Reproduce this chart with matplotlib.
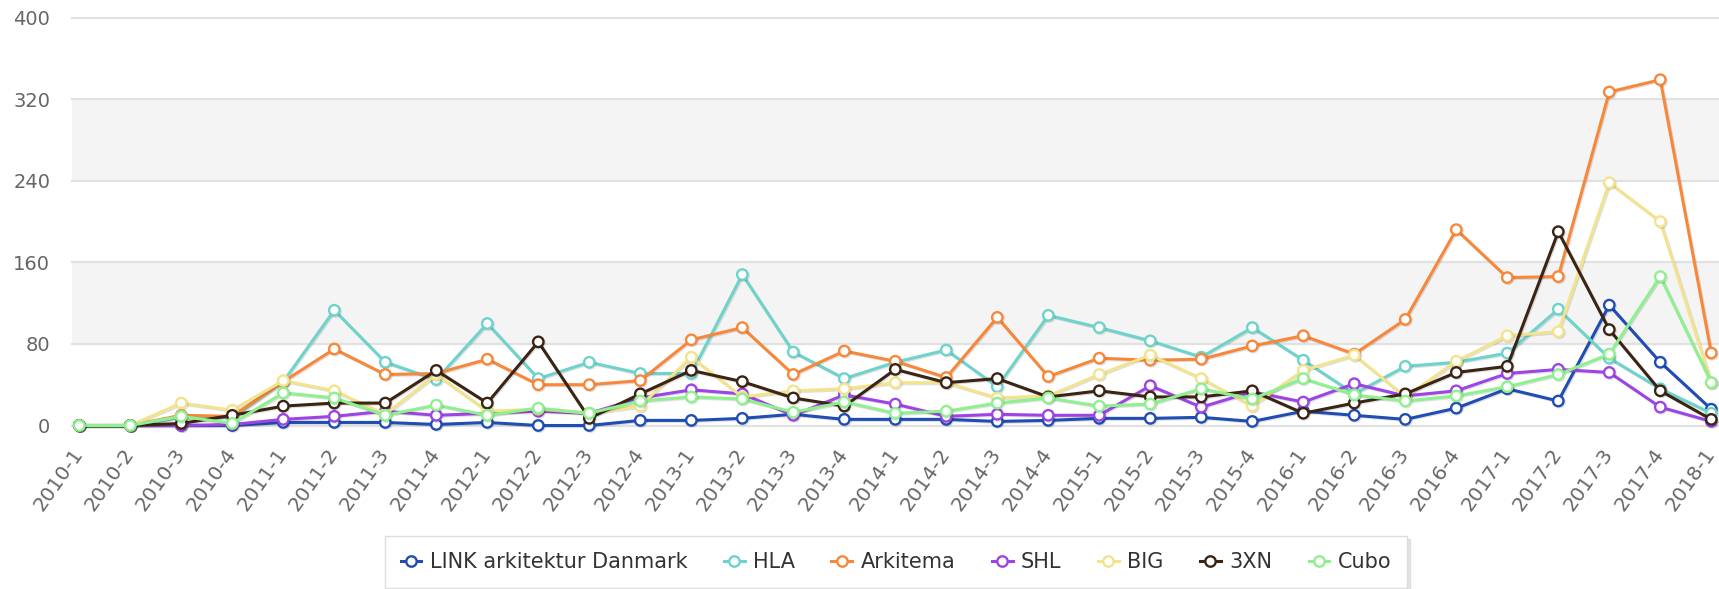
import matplotlib
matplotlib.use("Agg")
import matplotlib.pyplot as plt
import matplotlib.patheffects as pe
from matplotlib.lines import Line2D

categories = ["2010-1", "2010-2", "2010-3", "2010-4", "2011-1", "2011-2", "2011-3", "2011-4",
              "2012-1", "2012-2", "2012-3", "2012-4", "2013-1", "2013-2", "2013-3", "2013-4",
              "2014-1", "2014-2", "2014-3", "2014-4", "2015-1", "2015-2", "2015-3", "2015-4",
              "2016-1", "2016-2", "2016-3", "2016-4", "2017-1", "2017-2", "2017-3", "2017-4",
              "2018-1"]

link = [0, 0, 0, 0, 3, 3, 3, 1, 3, 0, 0, 5, 5, 7, 11, 6, 6, 6, 4, 5, 7, 7, 8, 4,
        14, 10, 6, 17, 36, 24, 118, 62, 16]
hla = [0, 0, 8, 8, 43, 113, 62, 45, 100, 46, 62, 51, 51, 148, 72, 46, 62, 74, 38, 108,
       96, 83, 67, 96, 64, 31, 58, 62, 71, 114, 66, 36, 12]
arkitema = [0, 0, 10, 9, 43, 75, 50, 51, 65, 40, 40, 44, 84, 96, 50, 73, 63, 47, 106, 48,
            66, 64, 65, 78, 88, 70, 104, 192, 145, 146, 327, 339, 71]
shl = [0, 0, 0, 1, 6, 9, 14, 10, 12, 14, 12, 27, 35, 31, 10, 30, 21, 9, 11, 10,
       10, 39, 18, 33, 23, 41, 29, 34, 51, 55, 52, 18, 4]
big = [0, 0, 22, 15, 44, 34, 11, 50, 14, 16, 12, 19, 67, 28, 34, 36, 42, 42, 27, 29,
       50, 69, 46, 19, 54, 69, 28, 63, 88, 92, 238, 200, 42]
x3n = [0, 0, 2, 10, 19, 22, 22, 54, 22, 82, 7, 31, 54, 43, 27, 19, 55, 42, 46, 28,
       34, 28, 28, 34, 12, 22, 31, 52, 58, 190, 94, 34, 6]
cubo = [0, 0, 9, 2, 32, 27, 10, 20, 10, 17, 12, 24, 28, 26, 13, 23, 12, 14, 22, 27,
        19, 21, 36, 26, 46, 30, 24, 29, 38, 50, 70, 146, 42]

series_names = ["LINK arkitektur Danmark", "HLA", "Arkitema", "SHL", "BIG", "3XN", "Cubo"]
series_values = [link, hla, arkitema, shl, big, x3n, cubo]
series_colors = ["#1f4db3", "#6dd3cb", "#f7883a", "#9d44e6", "#f3e38d", "#3b2414", "#8ef08e"]

yticks = [0, 80, 160, 240, 320, 400]

W, H = 1719, 589
fig = plt.figure(figsize=(W / 100, H / 100), dpi=100)
left_px, right_px, top_px, bottom_px = 71.7, 1719, 17.5, 425.5
ax = fig.add_axes([left_px / W, 1 - bottom_px / H, (right_px - left_px) / W, (bottom_px - top_px) / H])

x = list(range(len(categories)))
step = (1711.3 - 79.3) / (len(categories) - 1)
ax.set_xlim(-(79.3 - left_px) / step, (len(categories) - 1) + (right_px - 1711.3) / step)
ax.set_ylim(0, 400)

# alternate bands
for i in range(len(yticks) - 1):
    if i % 2 == 1:
        ax.axhspan(yticks[i], yticks[i + 1], color="#f4f4f4", zorder=0, lw=0)
for yv in yticks:
    ax.axhline(yv, color="#e1e1e1", lw=1.6, zorder=1, clip_on=False)

shadow = [pe.SimpleLineShadow(offset=(0.8, -0.8), shadow_color="black", alpha=0.12), pe.Normal()]
for name, vals, col in zip(series_names, series_values, series_colors):
    ax.plot(x, vals, color=col, lw=2.2, marker="o", markersize=7.5, markerfacecolor="white",
            markeredgecolor=col, markeredgewidth=1.7, zorder=3, clip_on=False, label=name,
            path_effects=shadow)

for s in ax.spines.values():
    s.set_visible(False)

ax.set_yticks(yticks)
ax.set_yticklabels([str(v) for v in yticks])
ax.set_xticks(x)
ax.set_xticklabels(categories)
ax.tick_params(axis="y", length=0, pad=15.5, labelsize=14, labelcolor="#666666")
ax.tick_params(axis="x", length=0, pad=18, labelsize=14.5, labelcolor="#666666")
for lab in ax.get_xticklabels():
    lab.set_rotation(55)
    lab.set_rotation_mode("anchor")
    lab.set_ha("right")
    lab.set_va("center")

handles = [Line2D([0], [0], color=c, lw=2.2, marker="o", markersize=7.5, markerfacecolor="white",
                  markeredgecolor=c, markeredgewidth=1.7) for c in series_colors]
leg = fig.legend(handles, series_names, loc="center", bbox_to_anchor=(896 / W, 1 - 562 / H),
                 ncol=7, fontsize=15, frameon=True, fancybox=False, handlelength=1.0,
                 handletextpad=0.4, columnspacing=1.75, borderpad=0.75,
                 shadow={"color": "#cccccc", "alpha": 0.5})
leg.get_frame().set_edgecolor("#dddddd")
leg.get_frame().set_linewidth(1.0)
for t in leg.get_texts():
    t.set_color("#333333")

fig.savefig("out.png", dpi=100, facecolor="white")
